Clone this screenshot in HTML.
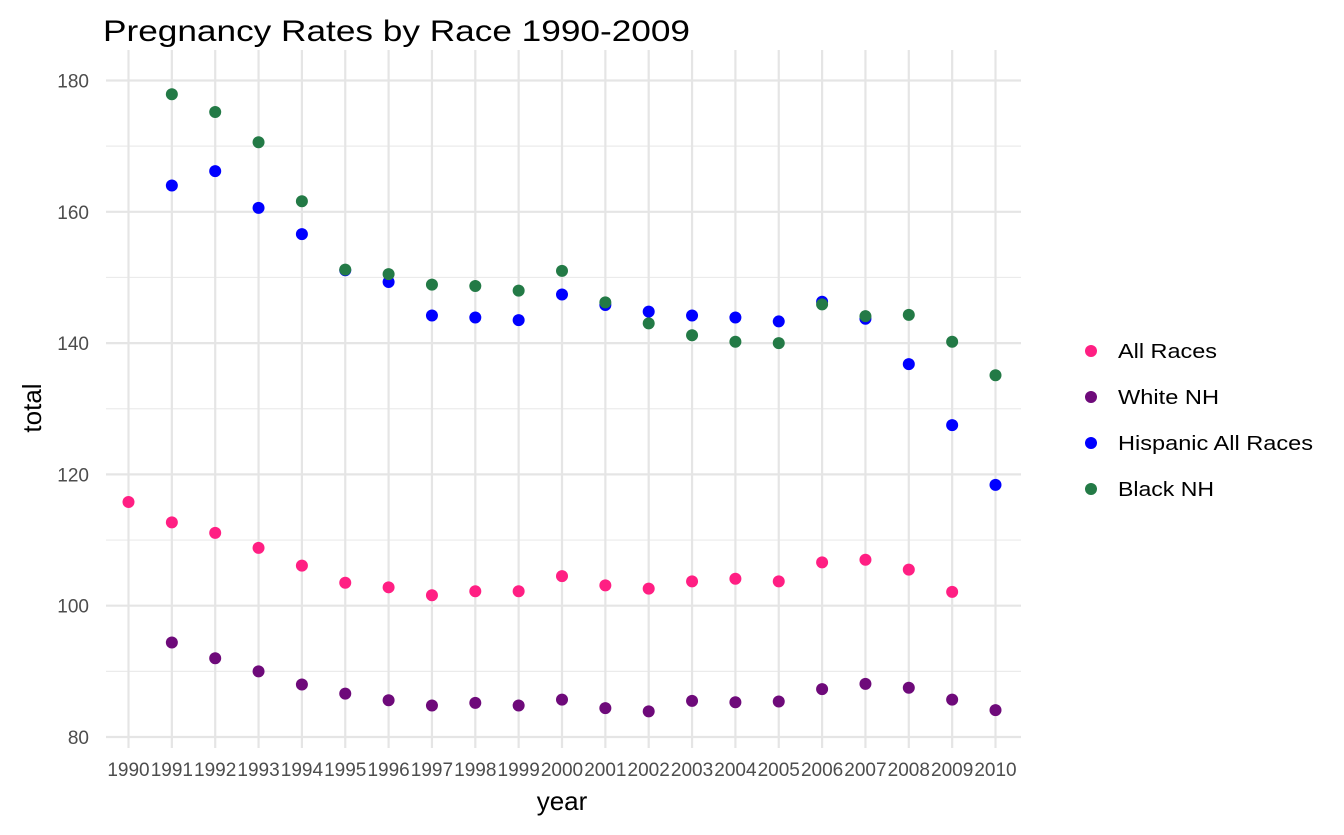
<!DOCTYPE html>
<html><head><meta charset="utf-8"><style>
body{margin:0;background:#fff;font-family:"Liberation Sans",Arial,sans-serif}
</style></head><body>
<svg id="chart" width="1344" height="830" xmlns="http://www.w3.org/2000/svg" font-family="Liberation Sans, Arial, sans-serif">
<text x="103" y="41" font-size="30" textLength="587" lengthAdjust="spacingAndGlyphs" fill="#000">Pregnancy Rates by Race 1990-2009</text>
<g id="grid"></g><g id="axes"></g><g id="points"></g>
<text x="562" y="810" font-size="26" text-anchor="middle" fill="#000">year</text>
<text transform="translate(41,408) rotate(-90)" font-size="26" text-anchor="middle" fill="#000">total</text>
<g id="legend"></g>
</svg>
<script>
const years=[1990,1991,1992,1993,1994,1995,1996,1997,1998,1999,2000,2001,2002,2003,2004,2005,2006,2007,2008,2009,2010];
const yTicks=[80,100,120,140,160,180];
const allRaces=[115.8,112.7,111.1,108.8,106.1,103.5,102.8,101.6,102.2,102.2,104.5,103.1,102.6,103.7,104.1,103.7,106.6,107.0,105.5,102.1,null];
const whiteNH=[null,94.4,92.0,90.0,88.0,86.6,85.6,84.8,85.2,84.8,85.7,84.4,83.9,85.5,85.3,85.4,87.3,88.1,87.5,85.7,84.1];
const hispanic=[null,164.0,166.2,160.6,156.6,151.1,149.3,144.2,143.9,143.5,147.4,145.8,144.8,144.2,143.9,143.3,146.3,143.7,136.8,127.5,118.4];
const blackNH=[null,177.9,175.2,170.6,161.6,151.2,150.5,148.9,148.7,148.0,151.0,146.2,143.0,141.2,140.2,140.0,145.9,144.1,144.3,140.2,135.1];
const seriesNames=["All Races","White NH","Hispanic All Races","Black NH"];
const seriesColors=["#ff1f83","#6e0a7a","#0000ff","#237a46"];
const seriesData=[allRaces,whiteNH,hispanic,blackNH];
const legendWidths=[99,101,195,96];
const NS="http://www.w3.org/2000/svg";
const X0=128.5,X1=995.5,Y80=737,Y180=80.5;
const xs=y=>X0+(y-1990)*(X1-X0)/20;
const ys=v=>Y80-(v-80)*(Y80-Y180)/100;
function mk(t,a,p){const e=document.createElementNS(NS,t);for(const k in a)e.setAttribute(k,a[k]);p.appendChild(e);return e;}
const grid=document.getElementById('grid'),axes=document.getElementById('axes'),pts=document.getElementById('points'),leg=document.getElementById('legend');
for(let v=90;v<=170;v+=20){const l=mk('line',{x1:106,x2:1021,y1:ys(v),y2:ys(v),stroke:'#ebebeb','stroke-width':1.2},grid);

}
yTicks.forEach(v=>{const l=mk('line',{x1:106,x2:1021,y1:ys(v),y2:ys(v),stroke:'#e5e5e5','stroke-width':2.2},grid);


const t=mk('text',{x:89,y:ys(v)+7,'font-size':19,'text-anchor':'end',fill:'#4d4d4d'},axes);t.textContent=v;

});
years.forEach(y=>{const l=mk('line',{x1:xs(y),x2:xs(y),y1:50,y2:748,stroke:'#e5e5e5','stroke-width':2.2},grid);


const t=mk('text',{x:xs(y),y:776,'font-size':19,'text-anchor':'middle',fill:'#4d4d4d'},axes);t.textContent=y;

});
seriesData.forEach((arr,si)=>{arr.forEach((v,i)=>{if(v==null)return;
const c=mk('circle',{cx:xs(years[i]),cy:ys(v),r:6,fill:seriesColors[si]},pts);

});
const ly=351+si*46;
const c=mk('circle',{cx:1091,cy:ly,r:6,fill:seriesColors[si]},leg);


const t=mk('text',{x:1118,y:ly+7,'font-size':20,textLength:legendWidths[si],lengthAdjust:'spacingAndGlyphs',fill:'#000'},leg);t.textContent=seriesNames[si];

});
</script>
</body></html>
